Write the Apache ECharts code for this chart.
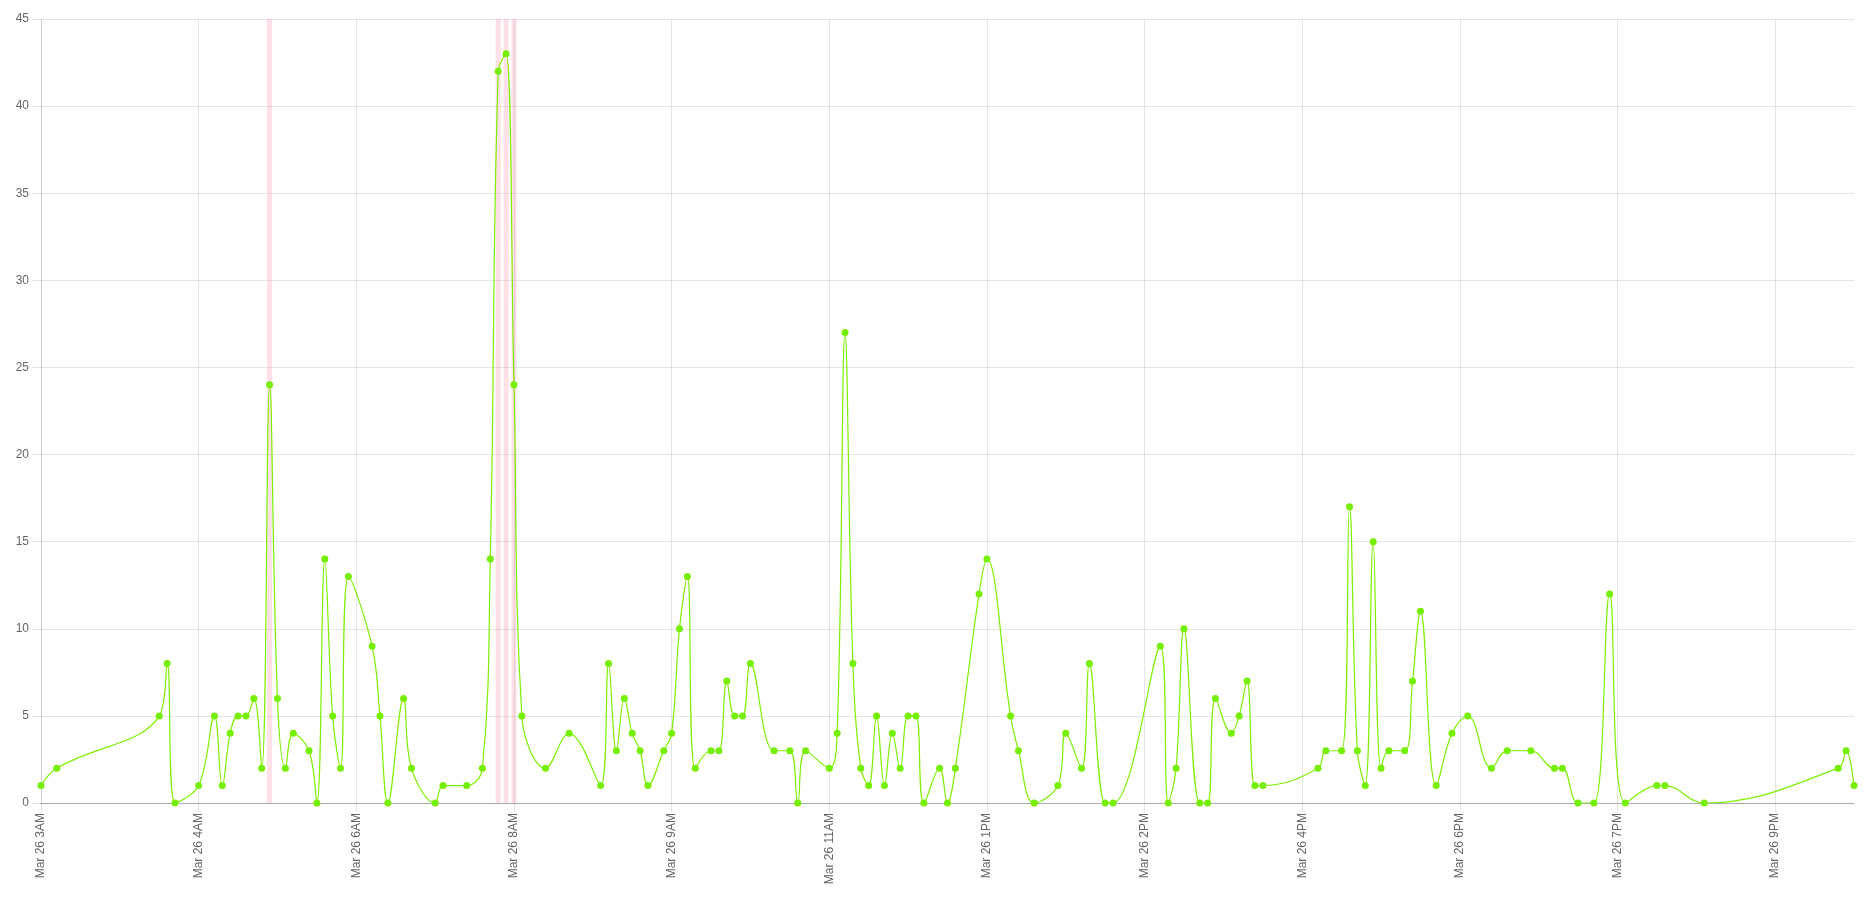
<!DOCTYPE html>
<html>
<head>
<meta charset="utf-8">
<script src="https://cdn.jsdelivr.net/npm/echarts@6/dist/echarts.min.js"></script>
<style>
html,body{margin:0;padding:0;background:#fff;}
#chart{width:1876px;height:900px;}
</style>
</head>
<body>
<div id="chart"></div>
<script>
// Sample times (Mar 26) and values
const times = [
  "03:00","03:10","04:15","04:20","04:25","04:40","04:50","04:55","05:00","05:05",
  "05:10","05:15","05:20","05:25","05:30","05:35","05:40","05:50","05:55","06:00",
  "06:05","06:10","06:15","06:30","06:35","06:40","06:50","06:55","07:10","07:15",
  "07:30","07:40","07:45","07:50","07:55","08:00","08:05","08:20","08:35","08:55",
  "09:00","09:05","09:10","09:15","09:20","09:25","09:35","09:40","09:45","09:50",
  "09:55","10:05","10:10","10:15","10:20","10:25","10:30","10:45","10:55","11:00",
  "11:05","11:20","11:25","11:30","11:35","11:40","11:45","11:50","11:55","12:00",
  "12:05","12:10","12:15","12:20","12:30","12:35","12:40","12:55","13:00","13:15",
  "13:20","13:30","13:45","13:50","14:00","14:05","14:15","14:20","14:50","14:55",
  "15:00","15:05","15:15","15:20","15:25","15:35","15:40","15:45","15:50","15:55",
  "16:30","16:35","16:45","16:50","16:55","17:00","17:05","17:10","17:15","17:25",
  "17:30","17:35","17:45","17:55","18:05","18:20","18:30","18:45","19:00","19:05",
  "19:15","19:25","19:35","19:45","20:05","20:10","20:35","22:00","22:05","22:10"
];
const values = [
  1,2,5,8,0,1,5,1,4,5,
  5,6,2,24,6,2,4,3,0,14,
  5,2,13,9,5,0,6,2,0,1,
  1,2,14,42,43,24,5,2,4,1,
  8,3,6,4,3,1,3,4,10,13,
  2,3,3,7,5,5,8,3,3,0,
  3,2,4,27,8,2,1,5,1,4,
  2,5,5,0,2,0,2,12,14,5,
  3,0,1,4,2,8,0,0,9,0,
  2,10,0,0,6,4,5,7,1,1,
  2,3,3,17,3,1,15,2,3,3,
  7,11,1,4,5,2,3,3,2,2,
  0,0,12,0,1,1,0,2,3,1
];
// Flagged (anomaly) times, drawn as full-height bands
const anomalyTimes = ["05:25","07:50","07:55","08:00"];
// Axis tick labels (every 100 minutes from 03:00)
const tickLabels = [
  "Mar 26 3AM","Mar 26 4AM","Mar 26 6AM","Mar 26 8AM","Mar 26 9AM","Mar 26 11AM",
  "Mar 26 1PM","Mar 26 2PM","Mar 26 4PM","Mar 26 6PM","Mar 26 7PM","Mar 26 9PM"
];
const startTime = "03:00";
const tickStepMinutes = 100;

function toMin(t){
  const p = t.split(":");
  const s = startTime.split(":");
  return (parseInt(p[0])*60 + parseInt(p[1])) - (parseInt(s[0])*60 + parseInt(s[1]));
}
const lineData = times.map((t,i)=>[toMin(t), values[i]]);
const bandData = anomalyTimes.map(t=>[toMin(t), 45]);
const xMax = toMin(times[times.length-1]);

const FONT = "'Liberation Sans', Arial, sans-serif";
const gridColor = 'rgba(0,0,0,0.1)';
const tickValues = tickLabels.map((_, i) => i * tickStepMinutes);
const splitColors = [];
for (let v = 0; v <= xMax; v += tickStepMinutes) splitColors.push(gridColor);
if (xMax % tickStepMinutes !== 0) splitColors.push('rgba(0,0,0,0)');

const chart = echarts.init(document.getElementById('chart'));
chart.setOption({
  animation: false,
  backgroundColor: '#fff',
  grid: {left: 41, right: 22, top: 19, bottom: 97, containLabel: false},
  xAxis: {
    type: 'value',
    min: 0,
    max: xMax,
    interval: tickStepMinutes,
    axisLine: {show: true, onZero: false, lineStyle: {color: 'rgba(0,0,0,0.25)', width: 1}},
    axisTick: {show: true, length: 9, customValues: tickValues, lineStyle: {color: gridColor}},
    splitLine: {show: true, lineStyle: {color: splitColors, width: 1}},
    axisLabel: {
      rotate: 90,
      margin: 10,
      color: '#666',
      fontSize: 12,
      fontFamily: FONT,
      customValues: tickValues,
      formatter: function(v){
        const i = Math.round(v / tickStepMinutes);
        return tickLabels[i] || '';
      }
    }
  },
  yAxis: {
    type: 'value',
    min: 0,
    max: 45,
    interval: 5,
    axisLine: {show: true, lineStyle: {color: gridColor}},
    axisTick: {show: true, length: 9, lineStyle: {color: gridColor}},
    splitLine: {show: true, lineStyle: {color: gridColor, width: 1}},
    axisLabel: {color: '#666', fontSize: 12, fontFamily: FONT, margin: 12}
  },
  series: [
    {
      type: 'bar',
      data: bandData,
      barWidth: 5,
      itemStyle: {color: 'rgba(255,99,132,0.2)'},
      z: 1,
      silent: true
    },
    {
      type: 'line',
      data: lineData,
      smooth: 0.4,
      showSymbol: true,
      symbol: 'circle',
      symbolSize: 7,
      lineStyle: {color: '#7cf000', width: 1.2},
      itemStyle: {color: '#76ee00', borderWidth: 0},
      z: 3
    }
  ]
});
</script>
</body>
</html>
